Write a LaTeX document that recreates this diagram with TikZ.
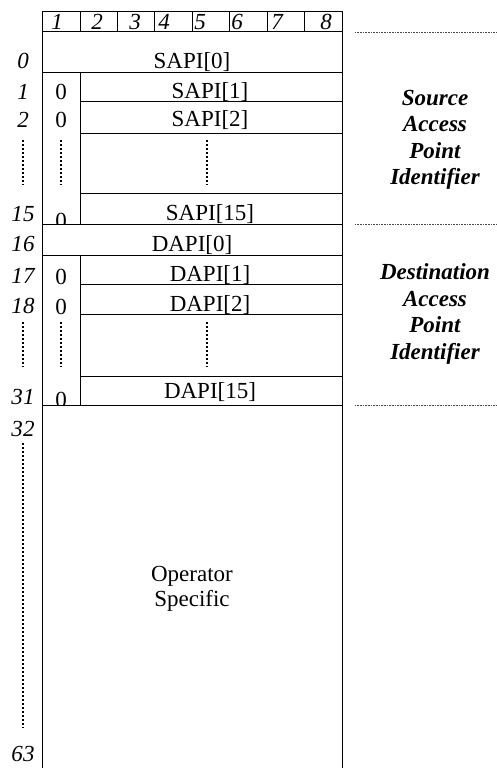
\documentclass[tikz,border=0pt]{standalone}
\usepackage{fontspec}
\setmainfont{Liberation Serif}
\tikzset{
  field/.style={draw, fill=white},
  txt/.style={anchor=base, inner sep=0pt, font=\fontsize{23}{23}\selectfont},
  idx/.style={anchor=base, inner sep=0pt, font=\fontsize{23}{23}\selectfont\itshape},
  bitno/.style={anchor=base, inner sep=0pt, font=\fontsize{23}{23}\selectfont\itshape},
  gap/.style={line width=1.8pt, dash pattern=on 1.8pt off 2.2pt},
  divider/.style={line width=0.5pt, dash pattern=on 0.6pt off 1pt, black!70},
  caption/.style={align=center, inner sep=0pt, font=\fontsize{23}{26.5}\selectfont\bfseries\itshape}
}
\begin{document}
\begin{tikzpicture}[x=1pt, y=-1pt, line width=1pt]
\useasboundingbox (0,0) rectangle (497,768);

% bit numbers
\draw[field] (42,12) rectangle (342.5,32);
\draw (80.5,12) -- (80.5,32);
\draw (117.1,12) -- (117.1,32);
\draw (154.7,12) -- (154.7,32);
\draw (192.2,12) -- (192.2,32);
\draw (229.8,12) -- (229.8,32);
\draw (267.4,12) -- (267.4,32);
\draw (304.9,12) -- (304.9,32);
\node[bitno] (b1) at (57,30) {1};
\node[bitno] (b2) at (97,30) {2};
\node[bitno] (b3) at (135,30) {3};
\node[bitno] (b4) at (164,30) {4};
\node[bitno] (b5) at (200,30) {5};
\node[bitno] (b6) at (237,30) {6};
\node[bitno] (b7) at (277,30) {7};
\node[bitno] (b8) at (326,30) {8};

% source access point identifier
\draw[field] (42,32) rectangle (342.5,72.5);
\node[txt] (sapi0) at (192,69) {SAPI[0]};
\node[idx] (o0) at (23,69) {0};
\draw[field] (42,72.5) rectangle (80.5,224);
\node[txt] (sz1) at (61,99.5) {0};
\node[txt] (sz2) at (61,127) {0};
\node[txt] (sz15) at (61,228) {0};
\draw[gap] (61,140) -- (61,185);
\draw[field] (80.5,72.5) rectangle (342.5,101);
\node[txt] (sapi1) at (210,98) {SAPI[1]};
\node[idx] (o1) at (23,99.5) {1};
\draw[field] (80.5,101) rectangle (342.5,133);
\node[txt] (sapi2) at (210,126.5) {SAPI[2]};
\node[idx] (o2) at (23,127) {2};
\draw[field] (80.5,133) rectangle (342.5,193);
\draw[gap] (207,140) -- (207,185);
\draw[gap] (23,140) -- (23,185);
\draw[field] (80.5,193) rectangle (342.5,224);
\node[txt] (sapi15) at (210,220) {SAPI[15]};
\node[idx] (o15) at (23,221) {15};

% destination access point identifier
\draw[field] (42,224) rectangle (342.5,255);
\node[txt] (dapi0) at (192,251) {DAPI[0]};
\node[idx] (o16) at (23,251) {16};
\draw[field] (42,255) rectangle (80.5,405);
\node[txt] (dz1) at (61,284.5) {0};
\node[txt] (dz2) at (61,314) {0};
\node[txt] (dz15) at (61,407) {0};
\draw[gap] (61,322) -- (61,367);
\draw[field] (80.5,255) rectangle (342.5,284);
\node[txt] (dapi1) at (210,281) {DAPI[1]};
\node[idx] (o17) at (23,283) {17};
\draw[field] (80.5,284) rectangle (342.5,314);
\node[txt] (dapi2) at (210,311) {DAPI[2]};
\node[idx] (o18) at (23,313) {18};
\draw[field] (80.5,314) rectangle (342.5,376);
\draw[gap] (207,322) -- (207,367);
\draw[gap] (23,322) -- (23,367);
\draw[field] (80.5,376) rectangle (342.5,405);
\node[txt] (dapi15) at (210,398) {DAPI[15]};
\node[idx] (o31) at (23,404) {31};

% operator specific
\draw[field] (42,405) rectangle (342.5,800);
\node[txt] (op1) at (192,581) {Operator};
\node[txt] (op2) at (192,606) {Specific};
\node[idx] (o32) at (23,436) {32};
\draw[gap] (23,443) -- (23,728);
\node[idx] (o63) at (23,761) {63};

% captions on the right
\draw[divider] (355,32.5) -- (497,32.5);
\draw[divider] (355,224) -- (497,224);
\draw[divider] (355,405) -- (497,405);
\node[caption] (sapiname) at (435,140) {Source\\Access\\Point\\Identifier};
\node[caption] (dapiname) at (435,314) {Destination\\Access\\Point\\Identifier};
\end{tikzpicture}
\end{document}
